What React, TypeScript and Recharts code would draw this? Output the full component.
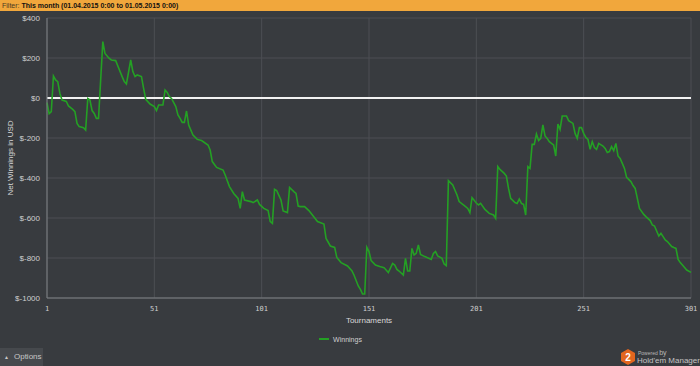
import React from 'react';
import {
  CartesianGrid,
  Legend,
  Line,
  LineChart,
  ReferenceLine,
  XAxis,
  YAxis,
} from 'recharts';

// tournament number (x) and cumulative net winnings in USD (y)
const tournaments = [
  1, 2, 3, 4, 5, 6, 7, 8, 10, 11, 13, 14, 15, 16, 18, 19, 20, 21, 22, 23, 24, 25,
  27, 28, 30, 31, 33, 34, 36, 37, 38, 40, 41, 42, 43, 45, 46, 47, 49, 51, 52, 53,
  55, 56, 57, 58, 59, 61, 62, 63, 64, 65, 66, 67, 69, 71, 73, 76, 77, 78, 80, 83,
  84, 86, 88, 90, 91, 92, 93, 96, 97, 99, 100, 102, 104, 105, 106, 107, 108, 110,
  111, 113, 114, 116, 117, 118, 119, 121, 123, 125, 127, 130, 131, 133, 135, 136,
  138, 141, 143, 144, 146, 147, 148, 149, 150, 151, 152, 154, 156, 158, 160, 162,
  163, 164, 165, 167, 168, 169, 170, 171, 172, 173, 174, 175, 177, 180, 181, 182,
  183, 185, 186, 187, 188, 190, 192, 193, 196, 197, 198, 199, 201, 202, 203, 205,
  207, 209, 210, 211, 212, 214, 215, 216, 217, 219, 220, 221, 222, 223, 224, 225,
  226, 227, 228, 229, 230, 231, 232, 233, 234, 235, 236, 237, 238, 239, 240, 241,
  243, 244, 246, 247, 248, 249, 250, 251, 252, 253, 254, 255, 256, 257, 258, 260,
  261, 262, 263, 264, 265, 266, 267, 268, 269, 270, 271, 273, 274, 275, 276, 277,
  279, 280, 282, 283, 284, 286, 287, 288, 289, 290, 292, 293, 294, 295, 296, 298,
  299, 301,
];

const winnings = [
  -23, -78, -68, 110, 90, 82, 23, -10, -17, -40, -57, -68, -127, -143, -148, -160,
  -2, -10, -63, -77, -102, -102, 282, 223, 198, 190, 187, 160, 107, 82, 70, 190,
  132, 107, 115, 107, 48, -7, -30, -43, -63, -35, -35, 40, 28, 7, -2, -43, -85,
  -102, -122, -122, -65, -135, -185, -207, -213, -235, -260, -318, -347, -360, -385,
  -443, -477, -502, -552, -468, -510, -518, -523, -510, -532, -552, -563, -618, -627,
  -457, -463, -510, -565, -573, -447, -468, -477, -540, -543, -543, -563, -590, -618,
  -630, -702, -740, -747, -797, -823, -840, -863, -885, -940, -957, -980, -980, -747,
  -768, -813, -835, -843, -848, -873, -827, -835, -857, -865, -885, -802, -865, -865,
  -752, -785, -777, -735, -782, -793, -807, -777, -768, -790, -802, -830, -838, -413,
  -435, -485, -518, -543, -552, -573, -498, -525, -535, -527, -557, -577, -585, -602,
  -343, -357, -377, -390, -452, -502, -523, -527, -505, -527, -532, -585, -343, -352,
  -232, -232, -180, -213, -202, -135, -190, -202, -218, -227, -235, -290, -130, -157,
  -90, -90, -113, -127, -177, -202, -148, -148, -177, -197, -207, -257, -218, -248,
  -257, -227, -240, -252, -272, -268, -243, -263, -227, -290, -302, -327, -352, -397,
  -418, -438, -452, -502, -552, -582, -593, -613, -635, -640, -690, -677, -693, -710,
  -718, -743, -748, -752, -807, -823, -848, -860, -872,
];

const xTicks = [1, 51, 101, 151, 201, 251, 301];
const yTicks = [-1000, -800, -600, -400, -200, 0, 200, 400];

const rows = tournaments.map((t, i) => ({ tournament: t, winnings: winnings[i] }));

const BG = '#383b3f';
const LINE = '#24a024';
const FONT = '"Liberation Sans", Arial, sans-serif';
const TICK_STYLE = { fontFamily: FONT, fontSize: 8, fill: '#cfcfcf' };

function YTitle({ viewBox }: any) {
  const cy = viewBox.y + viewBox.height / 2;
  return (
    <text
      x={10}
      y={cy}
      transform={`rotate(-90, 10, ${cy})`}
      textAnchor="middle"
      dominantBaseline="central"
      style={{ fontFamily: FONT, fontSize: 8, fill: '#d8d8d8' }}
    >
      Net Winnings in USD
    </text>
  );
}

function LegendContent() {
  return (
    <div
      style={{
        display: 'flex',
        justifyContent: 'center',
        alignItems: 'center',
        height: 20,
        paddingRight: 10,
        fontFamily: FONT,
        fontSize: 7,
        color: '#d0d0d0',
      }}
    >
      <span style={{ display: 'inline-block', width: 10, height: 2, background: LINE, marginRight: 4 }} />
      Winnings
    </div>
  );
}

export default function App() {
  return (
    <div
      style={{
        position: 'absolute',
        left: 0,
        top: 0,
        width: 700,
        height: 366,
        background: BG,
        overflow: 'hidden',
      }}
    >
      <div
        style={{
          position: 'absolute',
          left: 0,
          top: 0,
          width: 700,
          height: 11,
          background: '#f1a73c',
          fontFamily: FONT,
          fontSize: 7,
          lineHeight: '11px',
          paddingLeft: 2,
          whiteSpace: 'nowrap',
          color: '#4a3a22',
        }}
      >
        Filter: <b style={{ color: '#111' }}>This month (01.04.2015 0:00 to 01.05.2015 0:00)</b>
      </div>

      <LineChart
        width={700}
        height={366}
        data={rows}
        margin={{ top: 18, right: 9, left: 0, bottom: 17 }}
        style={{ position: 'absolute', left: 0, top: 0 }}
      >
        <CartesianGrid stroke="#4c4f54" strokeWidth={1} />
        <XAxis
          dataKey="tournament"
          type="number"
          domain={[1, 301]}
          ticks={xTicks}
          interval={0}
          height={31}
          stroke="#7d8084"
          tickLine={false}
          tick={{ ...TICK_STYLE, fontFamily: '"DejaVu Sans Mono", monospace', fontSize: 7 }}
          tickMargin={2}
          label={{
            value: 'Tournaments',
            position: 'insideBottom',
            offset: 6,
            style: { ...TICK_STYLE, fill: '#d8d8d8' },
          }}
        />
        <YAxis
          type="number"
          domain={[-1000, 400]}
          ticks={yTicks}
          interval={0}
          width={47}
          stroke="#7d8084"
          tickLine={false}
          tick={TICK_STYLE}
          tickMargin={1}
          tickFormatter={(v: number) => `$${v}`}
          label={<YTitle />}
        />
        <ReferenceLine y={0} stroke="#f2f2f2" strokeWidth={2} ifOverflow="extendDomain" />
        <Legend verticalAlign="bottom" height={20} content={<LegendContent />} />
        <Line
          name="Winnings"
          type="linear"
          dataKey="winnings"
          stroke={LINE}
          strokeWidth={1.6}
          dot={false}
          activeDot={false}
          isAnimationActive={false}
        />
      </LineChart>

      <div
        style={{
          position: 'absolute',
          left: 0,
          top: 348,
          width: 43,
          height: 18,
          background: '#46494d',
          color: '#c8c8c8',
          fontFamily: FONT,
          fontSize: 8,
          lineHeight: '18px',
          paddingLeft: 4,
          boxSizing: 'border-box',
          whiteSpace: 'nowrap',
        }}
      >
        <span style={{ fontSize: 5, marginRight: 5 }}>▲</span>Options
      </div>

      <div style={{ position: 'absolute', left: 620, top: 348, width: 80, height: 18 }}>
        <svg width={16} height={18} style={{ position: 'absolute', left: 0, top: 0 }}>
          <polygon points="8,1 15,5 15,13 8,17 1,13 1,5" fill="#e2661f" />
          <text
            x={8}
            y={12.5}
            textAnchor="middle"
            style={{ fontFamily: FONT, fontSize: 10, fontWeight: 700, fill: '#fff' }}
          >
            2
          </text>
        </svg>
        <div
          style={{
            position: 'absolute',
            left: 18,
            top: 1,
            fontFamily: FONT,
            fontSize: 5,
            color: '#b8b8b8',
            whiteSpace: 'nowrap',
          }}
        >
          Powered <span style={{ fontSize: 7 }}>by</span>
        </div>
        <div
          style={{
            position: 'absolute',
            left: 17,
            top: 8,
            fontFamily: FONT,
            fontSize: 8,
            color: '#c4c4c4',
            whiteSpace: 'nowrap',
          }}
        >
          Hold'em Manager
        </div>
      </div>
    </div>
  );
}
